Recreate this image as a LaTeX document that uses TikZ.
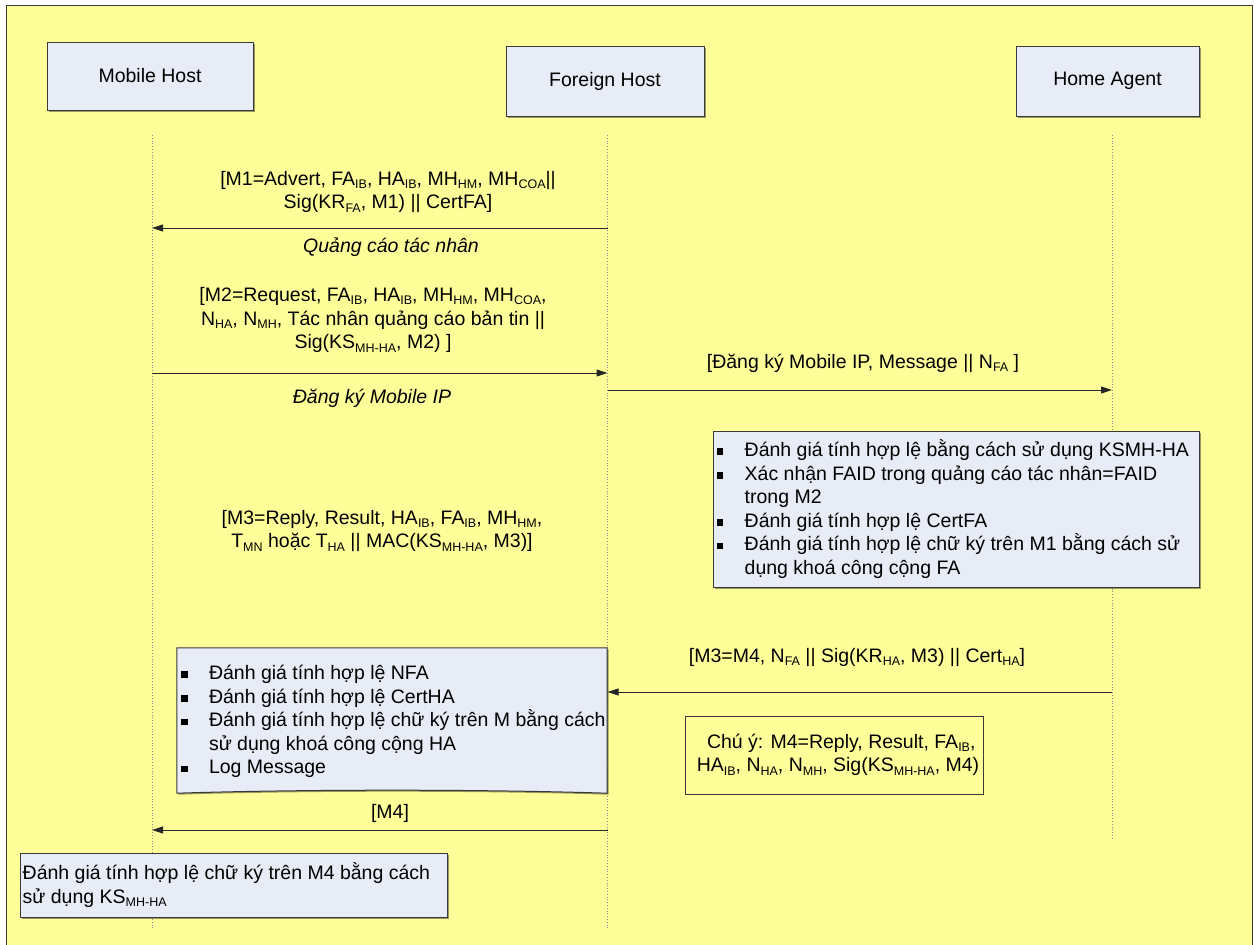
\documentclass[tikz,border=0pt]{standalone}
\usepackage{fontspec}
\setmainfont{Liberation Sans}
\usetikzlibrary{arrows.meta,shadows,calc}

\definecolor{pagebg}{HTML}{FFFF99}
\definecolor{boxfill}{HTML}{E7ECF6}
\definecolor{edge}{HTML}{3A3A3A}

% text sizes
\newcommand\txt{\fontsize{19.5}{23.6}\selectfont}
% lowered index, as in FA_IB
\newcommand\lo[1]{\raisebox{-3.5pt}{\fontsize{12.5}{12.5}\selectfont #1}}
% square list bullet and hanging indent
\newcommand\bul{\makebox[28pt][l]{\raisebox{1.5pt}{\rule{6.5pt}{6.5pt}}}}
\newcommand\cont{\hspace*{28pt}}

\tikzset{
  head/.style={draw=edge, fill=boxfill, line width=1pt, inner sep=0pt,
    font=\txt, drop shadow={shadow xshift=1.5pt, shadow yshift=-1.5pt, opacity=0.4, fill=black}},
  bluebox/.style={draw=edge, fill=boxfill, line width=1pt, inner sep=0pt,
    drop shadow={shadow xshift=1.5pt, shadow yshift=-1.5pt, opacity=0.4, fill=black}},
  notebox/.style={draw=edge, fill=pagebg, line width=0.9pt, inner sep=0pt},
  lifeline/.style={draw=black!45, dotted, line width=0.8pt},
  msg/.style={draw=black!85, line width=1pt, -{Triangle[length=11pt,width=7pt]}},
  lbl/.style={font=\txt, align=center, inner sep=0pt},
  caption/.style={font=\txt\itshape, inner sep=0pt},
  listtxt/.style={font=\txt, align=left, inner sep=0pt, anchor=west},
}

\begin{document}
\begin{tikzpicture}[x=1pt, y=-1pt]
\useasboundingbox (0,0) rectangle (1254,945);

% page frame
\draw[draw=edge, line width=1.6pt, fill=pagebg] (6.5,5.5) rectangle (1252.5,960);

% participants
\node[head, minimum width=206pt, minimum height=68pt] (mh) at (150,76) {Mobile Host};
\node[head, minimum width=198pt, minimum height=70pt] (fh) at (605,81) {Foreign Host};
\node[head, minimum width=183pt, minimum height=70pt] (ha) at (1107.5,81) {Home Agent};

% lifelines
\coordinate (mhT) at (152,135);   \coordinate (mhB) at (152,930);
\coordinate (fhT) at (607.5,135); \coordinate (fhB) at (607.5,930);
\coordinate (haT) at (1112,135);  \coordinate (haB) at (1112,840);
\draw[lifeline] (mhT) -- (mhB);
\draw[lifeline] (fhT) -- (fhB);
\draw[lifeline] (haT) -- (haB);

% message end points on the lifelines
\coordinate (a1) at (607.5,228); \coordinate (b1) at (152,228);
\coordinate (a2) at (152,373);   \coordinate (b2) at (607.5,373);
\coordinate (a3) at (607.5,390); \coordinate (b3) at (1112,390);
\coordinate (a4) at (1112,692);  \coordinate (b4) at (607.5,692);
\coordinate (a5) at (607.5,830); \coordinate (b5) at (152,830);

% agent advertisement
\node[lbl] (l1) at (388,192) {[M1=Advert, FA\lo{IB}, HA\lo{IB}, MH\lo{HM}, MH\lo{COA}||\\
  Sig(KR\lo{FA}, M1) || CertFA]};
\draw[msg] (a1) -- (b1);
\node[caption] (c1) at (391,247) {Quảng cáo tác nhân};

% registration request
\node[lbl] (l2) at (373,320) {[M2=Request, FA\lo{IB}, HA\lo{IB}, MH\lo{HM}, MH\lo{COA},\\
  N\lo{HA}, N\lo{MH}, Tác nhân quảng cáo bản tin ||\\
  Sig(KS\lo{MH-HA}, M2) ]};
\draw[msg] (a2) -- (b2);
\node[caption] (c2) at (372,398) {Đăng ký Mobile IP};

% relayed request
\node[lbl] (l3) at (863,363) {[Đăng ký Mobile IP, Message || N\lo{FA} ]};
\draw[msg] (a3) -- (b3);

% checks at the home agent
\node[bluebox, minimum width=486pt, minimum height=156pt] (chk) at (956,509) {};
\node[listtxt] (chktxt) at ([xshift=4pt]chk.west) {%
  \bul Đánh giá tính hợp lệ bằng cách sử dụng KSMH-HA\\
  \bul Xác nhận FAID trong quảng cáo tác nhân=FAID\\
  \cont trong M2\\
  \bul Đánh giá tính hợp lệ CertFA\\
  \bul Đánh giá tính hợp lệ chữ ký trên M1 bằng cách sử\\
  \cont dụng khoá công cộng FA};

% reply contents
\node[lbl] (l4) at (382,531) {[M3=Reply, Result, HA\lo{IB}, FA\lo{IB}, MH\lo{HM},\\
  T\lo{MN} hoặc T\lo{HA} || MAC(KS\lo{MH-HA}, M3)]};

% reply to the foreign host
\node[lbl] (l5) at (857,657) {[M3=M4, N\lo{FA} || Sig(KR\lo{HA}, M3) || Cert\lo{HA}]};
\draw[msg] (a4) -- (b4);

% checks at the foreign host (document shape)
\node[minimum width=430pt, minimum height=145pt, inner sep=0pt] (fchk) at (392,720.5) {};
\path[draw=edge, fill=boxfill, line width=1pt,
      drop shadow={shadow xshift=1.5pt, shadow yshift=-1.5pt, opacity=0.4, fill=black}]
  (fchk.north west) -- (fchk.north east) -- (fchk.south east)
  .. controls ($(fchk.south)+(90,-4)$) and ($(fchk.south)+(-90,-4)$) .. (fchk.south west) -- cycle;
\node[listtxt] (fchktxt) at ([xshift=4pt,yshift=-1pt]fchk.west) {%
  \bul Đánh giá tính hợp lệ NFA\\
  \bul Đánh giá tính hợp lệ CertHA\\
  \bul Đánh giá tính hợp lệ chữ ký trên M bằng cách\\
  \cont sử dụng khoá công cộng HA\\
  \bul Log Message};

% note on M4
\node[notebox, minimum width=298pt, minimum height=78pt] (note) at (834,755) {};
\node[lbl] (notetxt) at (838,755) {\,\,Chú ý: M4=Reply, Result, FA\lo{IB},\\
  HA\lo{IB}, N\lo{HA}, N\lo{MH}, Sig(KS\lo{MH-HA}, M4)};

% final reply to the mobile host
\node[lbl] (l6) at (390,813) {[M4]};
\draw[msg] (a5) -- (b5);

% check at the mobile host
\node[bluebox, minimum width=427pt, minimum height=64pt] (mchk) at (233.5,885) {};
\node[listtxt] (mchktxt) at ([xshift=3pt]mchk.west) {%
  Đánh giá tính hợp lệ chữ ký trên M4 bằng cách\\
  sử dụng KS\lo{MH-HA}};
\end{tikzpicture}
\end{document}
